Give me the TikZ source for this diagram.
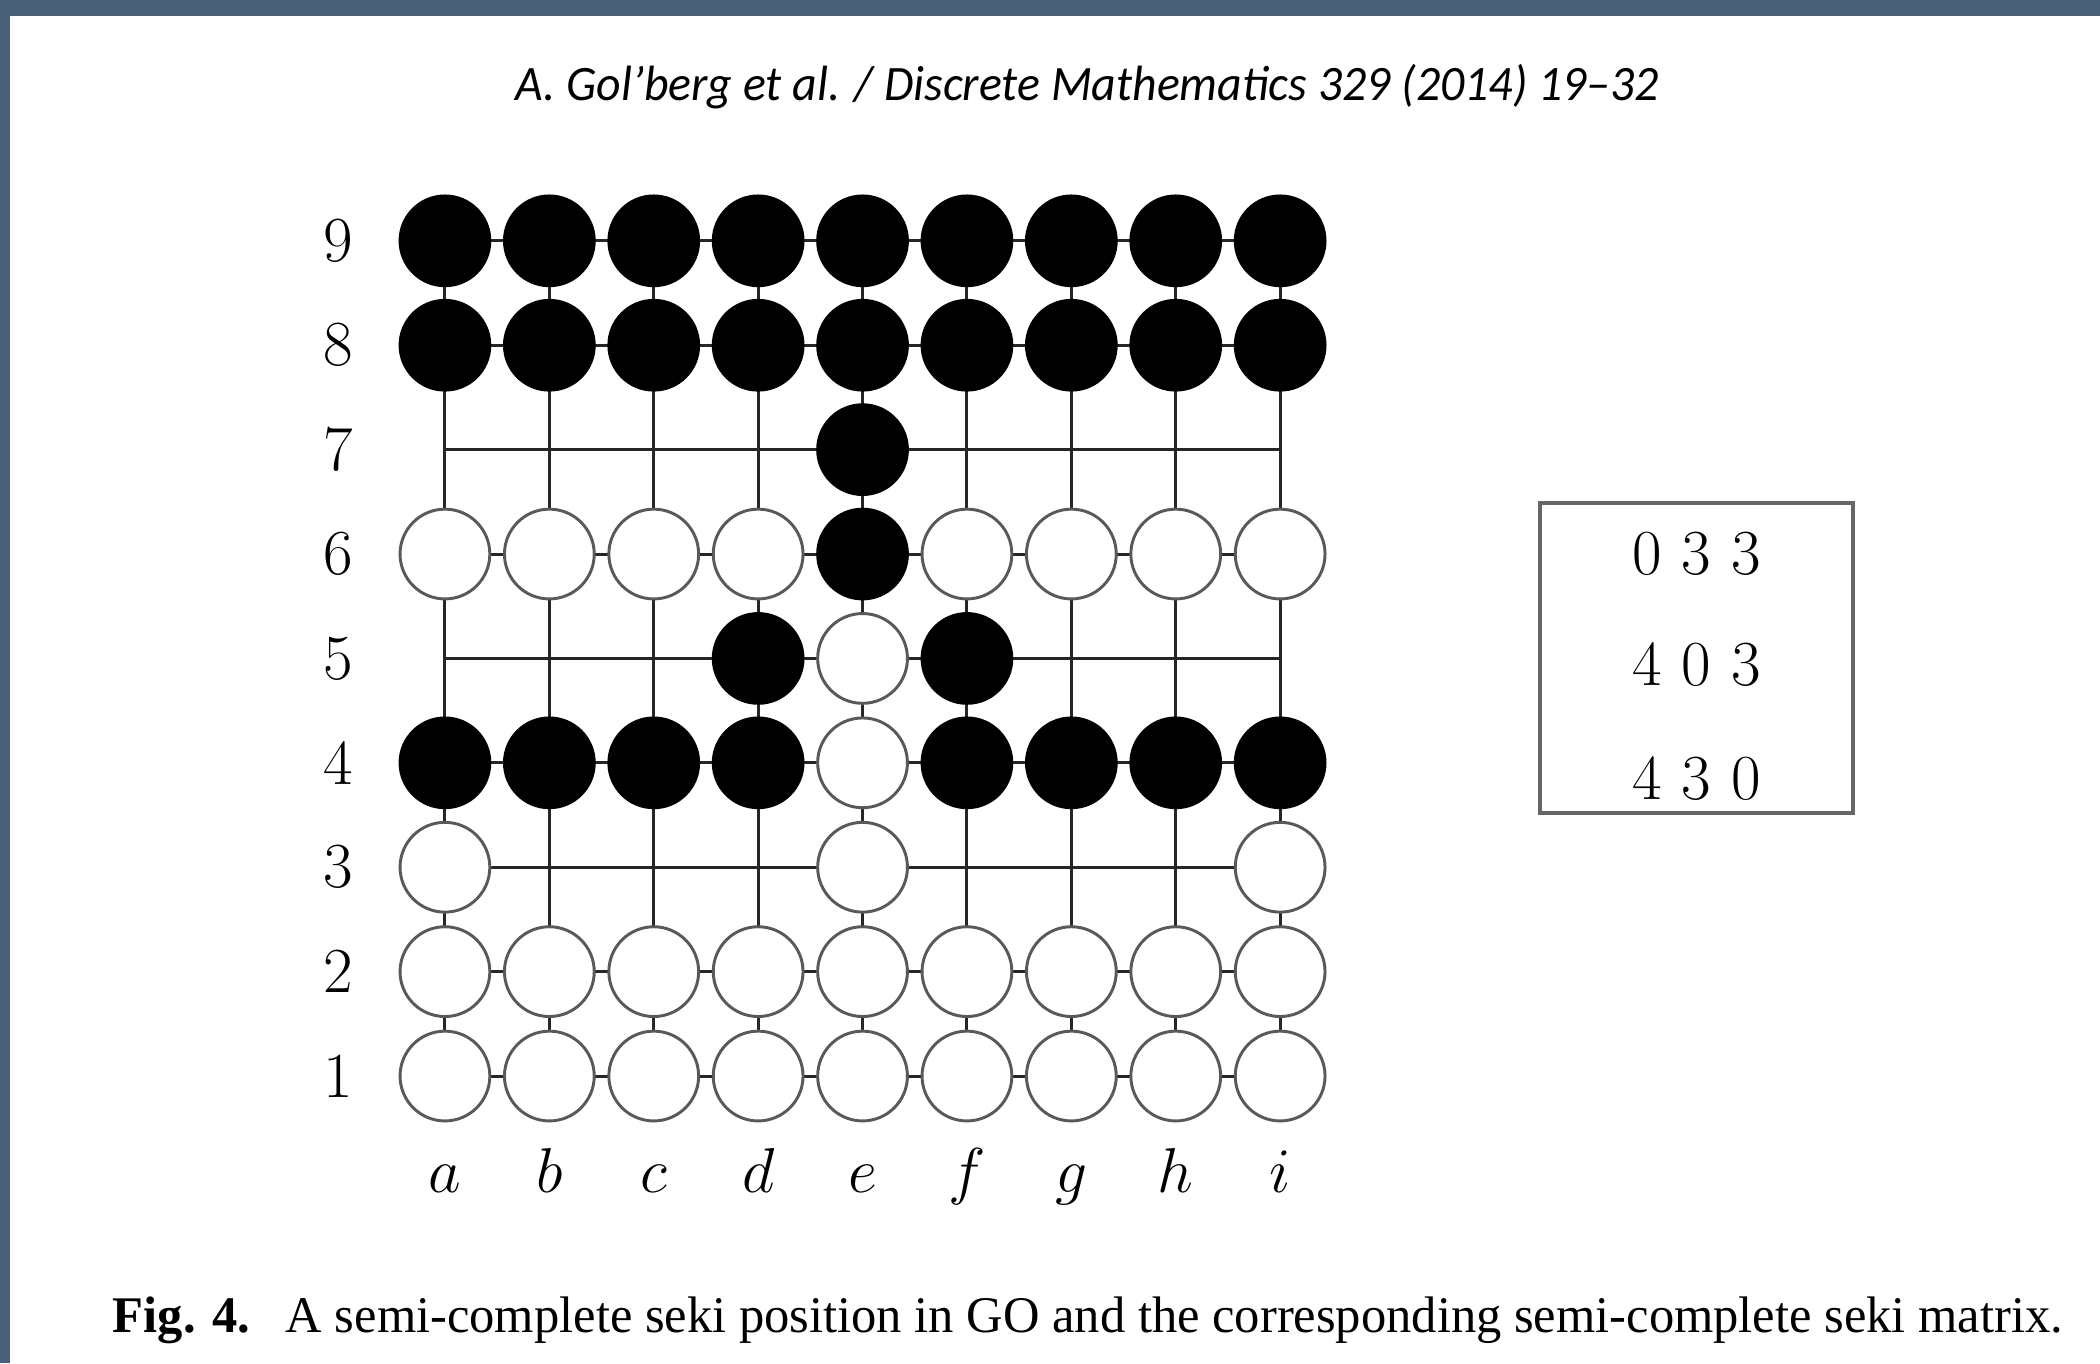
\documentclass[tikz,border=0pt]{standalone}
\usepackage{fontspec}
\usepackage{graphicx}
\newfontfamily\headfont{Carlito}
\newfontfamily\capfont{Liberation Serif}
\definecolor{framegray}{RGB}{74,96,121}
\tikzset{
  blackstone/.style={circle, draw=black, fill=black, line width=0.8pt, minimum size=0.86cm, inner sep=0pt},
  whitestone/.style={circle, draw=black!65, fill=white, line width=0.8pt, minimum size=0.86cm, inner sep=0pt},
  boardlabel/.style={font=\fontsize{17.5}{20}\selectfont, inner sep=0pt},
}
\begin{document}
\begin{tikzpicture}
    \useasboundingbox (-4.262,-2.749) rectangle (15.853,10.307);

    % Page frame
    \fill[framegray] (-4.262,10.154) rectangle (15.853,10.307);
    \fill[framegray] (-4.262,-2.749) rectangle (-4.166,10.307);

    % Running head
    \node[anchor=base, inner sep=0pt] (header) at (6.154,9.349)
      {\fontsize{13.5}{16}\selectfont\headfont\itshape\resizebox{10.95cm}{\height}{A. Gol’berg et al. / Discrete Mathematics 329 (2014) 19–32}};

    % Board lines
    \draw[line width=0.8pt, black!85] (0,0) grid (8,8);

    % Rows 9 and 8, rows 2 and 1
    \foreach \col [count=\x from 0] in {a,...,i} {
      \node[blackstone] (\col9) at (\x,8) {};
      \node[blackstone] (\col8) at (\x,7) {};
      \node[whitestone] (\col2) at (\x,1) {};
      \node[whitestone] (\col1) at (\x,0) {};
    }

    % Black stones in the middle
    \foreach \col/\x/\y in {e/4/6, e/4/5, d/3/4, f/5/4, a/0/3, b/1/3, c/2/3, d/3/3, f/5/3, g/6/3, h/7/3, i/8/3}
      \node[blackstone] (\col\the\numexpr\y+1\relax) at (\x,\y) {};

    % White stones in the middle
    \foreach \col/\x/\y in {a/0/5, b/1/5, c/2/5, d/3/5, f/5/5, g/6/5, h/7/5, i/8/5, e/4/4, e/4/3, a/0/2, e/4/2, i/8/2}
      \node[whitestone] (\col\the\numexpr\y+1\relax) at (\x,\y) {};

    % Coordinates
    \foreach \r in {1,...,9}
      \node[boardlabel] (row\r) at (-1.025,\r-1) {\r};
    \foreach \col [count=\x from 0] in {a,...,i}
      \node[boardlabel, anchor=base] (lab\col) at (\x,-1.111) {$\col$};

    % Seki matrix
    \node[draw=black!60, line width=0.9pt, minimum width=2.998cm, minimum height=2.97cm, inner sep=0pt] (matrix) at (11.988,4.004) {};
    \node[boardlabel, anchor=base] (mrow1) at (11.988,4.808) {0\hspace{5.4pt}3\hspace{5.4pt}3};
    \node[boardlabel, anchor=base] (mrow2) at (11.988,3.745) {4\hspace{5.4pt}0\hspace{5.4pt}3};
    \node[boardlabel, anchor=base] (mrow3) at (11.988,2.653) {4\hspace{5.4pt}3\hspace{5.4pt}0};

    % Caption
    \node[anchor=base, inner sep=0pt] (caption) at (6.159,-2.452)
      {\fontsize{14}{17}\selectfont\capfont\resizebox{18.68cm}{\height}{\textbf{Fig. 4.}\hspace{0.7em}A semi-complete seki position in GO and the corresponding semi-complete seki matrix.}};
\end{tikzpicture}
\end{document}
